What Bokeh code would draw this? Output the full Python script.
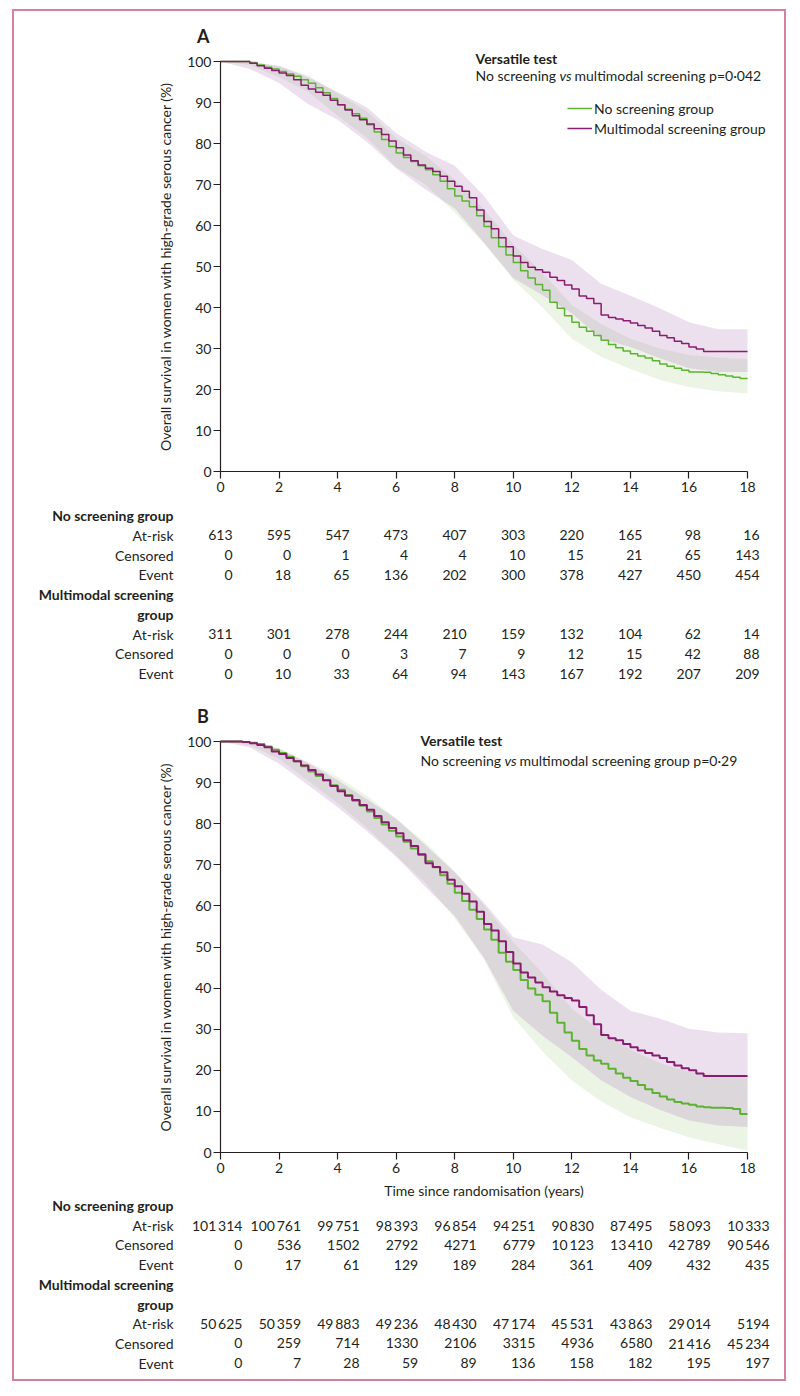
from bokeh.plotting import figure
from bokeh.models import (Range1d, FixedTicker, Label, ColumnDataSource, Legend, LegendItem)
from bokeh.layouts import column
from bokeh.embed import file_html
from bokeh.resources import INLINE
from bokeh.core.properties import value

FONT = "Lato"
INK = "#231f20"
GREEN = "#5db233"
PURPLE = "#8a1c70"
BORDER = "#d77f9d"
GREEN_BAND = "#80b658"
PURPLE_BAND = "#a064aa"

# ---------------- data ----------------
x_ticks = [0, 2, 4, 6, 8, 10, 12, 14, 16, 18]
y_ticks = [0, 10, 20, 30, 40, 50, 60, 70, 80, 90, 100]

# survival (%) read every quarter year, 0..18
A_no_screen = [100, 100, 100, 100, 99.8, 99.2, 98.6, 98.2, 97.6, 97.0, 96.4, 95.6,
               94.7, 93.6, 92.4, 91.0, 89.5, 88.4, 87.3, 86.2, 84.6, 82.8, 81.0, 79.3,
               77.7, 76.6, 75.6, 74.6, 73.6, 72.4, 70.8, 69.0, 67.2, 66.0, 64.6, 62.4,
               59.8, 57.0, 54.8, 52.8, 51.0, 49.0, 47.2, 45.6, 44.2, 41.3, 39.8, 38.0,
               36.4, 35.2, 34.2, 33.2, 32.0, 31.0, 30.2, 29.4, 28.7, 28.2, 27.7, 27.0,
               26.2, 25.7, 25.2, 24.7, 24.3, 24.3, 24.2, 23.9, 23.6, 23.3, 23.0, 22.7, 22.7]
A_multimodal = [100, 100, 100, 100, 99.6, 99.0, 98.4, 97.8, 97.2, 96.6, 95.6, 94.2,
                93.3, 92.5, 91.8, 90.6, 89.5, 88.2, 86.8, 85.8, 84.8, 83.6, 82.2, 80.6,
                79.0, 77.2, 75.8, 74.8, 74.0, 73.2, 72.0, 70.8, 69.6, 68.4, 66.8, 63.8,
                61.0, 59.2, 57.0, 54.8, 52.6, 51.0, 49.8, 49.2, 48.6, 47.4, 46.6, 45.5,
                44.5, 42.8, 42.2, 41.0, 38.2, 37.6, 37.2, 36.8, 36.2, 35.6, 35.0, 34.2,
                33.2, 32.6, 31.8, 31.2, 30.4, 29.9, 29.3, 29.3, 29.3, 29.3, 29.3, 29.3, 29.3]
B_no_screen = [100, 100, 100, 99.9, 99.7, 99.4, 98.8, 98.0, 97.2, 96.3, 95.2, 94.0,
               92.7, 91.6, 90.6, 89.4, 88.3, 87.0, 85.6, 84.4, 83.0, 81.4, 79.8, 78.3,
               76.9, 75.6, 74.0, 72.4, 70.9, 69.4, 67.5, 65.4, 63.2, 61.2, 59.1, 56.8,
               54.3, 51.8, 48.6, 46.4, 44.4, 42.0, 39.9, 38.4, 36.8, 34.0, 31.6, 29.2,
               27.2, 25.2, 23.6, 22.4, 21.6, 20.4, 19.2, 18.2, 17.4, 16.4, 15.4, 14.5,
               13.6, 12.9, 12.3, 11.9, 11.6, 11.2, 11.0, 10.9, 10.9, 10.8, 10.6, 9.4, 9.4]
B_multimodal = [100, 100, 100, 99.9, 99.6, 99.2, 98.6, 97.6, 97.0, 96.0, 95.2, 94.2,
                93.1, 92.0, 90.6, 89.2, 87.9, 86.8, 85.8, 84.6, 83.4, 81.9, 80.4, 79.0,
                77.7, 76.0, 74.6, 72.6, 70.4, 69.5, 68.2, 66.4, 64.8, 63.0, 61.1, 58.6,
                55.6, 54.0, 51.4, 48.8, 46.0, 43.8, 42.6, 41.4, 40.2, 39.2, 38.3, 37.6,
                37.0, 35.4, 33.4, 31.2, 28.6, 27.8, 27.3, 26.4, 25.6, 24.8, 24.2, 23.6,
                23.0, 22.0, 21.2, 20.5, 20.0, 19.2, 18.6, 18.6, 18.6, 18.6, 18.6, 18.6, 18.6]

# 95% CI bands read at whole years 0..18
band_years = [0, 1, 2, 3, 4, 5, 6, 7, 8, 9, 10, 11, 12, 13, 14, 15, 16, 17, 18]
A_ns_upper = [100, 100, 98.8, 96.6, 92.2, 87.8, 81.4, 77.0, 71.2, 64.0, 55.4, 48.4, 40.6, 36.0, 32.4, 30.0, 28.4, 27.8, 27.4]
A_ns_lower = [100, 99.2, 96.2, 92.6, 86.8, 81.4, 74.2, 70.0, 63.2, 55.6, 46.8, 40.0, 32.4, 28.0, 25.0, 22.4, 20.6, 19.6, 19.0]
A_mm_upper = [100, 100, 99.0, 96.2, 92.6, 88.8, 82.6, 78.0, 74.6, 67.2, 57.6, 54.3, 51.6, 45.8, 42.9, 39.8, 36.4, 34.7, 34.7]
A_mm_lower = [100, 98.2, 94.8, 89.6, 85.8, 80.4, 74.0, 68.8, 64.2, 55.8, 47.2, 43.0, 38.6, 32.4, 30.4, 27.6, 25.2, 24.3, 24.3]
B_ns_upper = [100, 100, 98.4, 95.0, 91.4, 86.8, 81.2, 75.4, 68.4, 60.2, 51.2, 43.6, 35.0, 29.6, 25.0, 21.8, 19.6, 18.8, 18.4]
B_ns_lower = [100, 99.2, 95.8, 90.4, 85.0, 79.0, 72.2, 65.6, 57.0, 47.0, 32.9, 24.6, 17.5, 12.4, 8.6, 6.0, 3.7, 2.0, 0.5]
B_mm_upper = [100, 100, 98.2, 94.8, 90.6, 86.0, 81.2, 74.8, 68.2, 60.8, 52.4, 50.6, 46.3, 39.6, 34.5, 32.6, 30.1, 29.2, 29.0]
B_mm_lower = [100, 98.6, 94.6, 89.4, 84.0, 78.2, 72.0, 64.6, 57.6, 47.4, 34.5, 28.4, 23.2, 17.6, 13.5, 10.4, 7.8, 6.6, 6.2]

# numbers-at-risk tables
A_ns_atrisk = [613, 595, 547, 473, 407, 303, 220, 165, 98, 16]
A_ns_censored = [0, 0, 1, 4, 4, 10, 15, 21, 65, 143]
A_ns_event = [0, 18, 65, 136, 202, 300, 378, 427, 450, 454]
A_mm_atrisk = [311, 301, 278, 244, 210, 159, 132, 104, 62, 14]
A_mm_censored = [0, 0, 0, 3, 7, 9, 12, 15, 42, 88]
A_mm_event = [0, 10, 33, 64, 94, 143, 167, 192, 207, 209]
B_ns_atrisk = [101314, 100761, 99751, 98393, 96854, 94251, 90830, 87495, 58093, 10333]
B_ns_censored = [0, 536, 1502, 2792, 4271, 6779, 10123, 13410, 42789, 90546]
B_ns_event = [0, 17, 61, 129, 189, 284, 361, 409, 432, 435]
B_mm_atrisk = [50625, 50359, 49883, 49236, 48430, 47174, 45531, 43863, 29014, 5194]
B_mm_censored = [0, 259, 714, 1330, 2106, 3315, 4936, 6580, 21416, 45234]
B_mm_event = [0, 7, 28, 59, 89, 136, 158, 182, 195, 197]

row_names = ["No screening group", "At-risk", "Censored", "Event",
             "Multimodal screening", "group", "At-risk", "Censored", "Event"]
row_bold = [True, False, False, False, True, True, False, False, False]

Y_LABEL = "Overall survival in women with high-grade serous cancer (%)"

# ---------------- geometry (px) ----------------
W, H = 770, 684          # each panel, inside the bordered box
PX_PER_YEAR = 29.28
LEFT_PAD = 206           # from the box edge to x = 0
XL = -LEFT_PAD / PX_PER_YEAR
XR = XL + W / PX_PER_YEAR
TXT = "14px"


def fmt(v):
    return f"{v:,}".replace(",", "\u2009") if v >= 10000 else str(v)


def quarter_times(vals):
    return [i * 0.25 for i in range(len(vals))]


def panel(letter, zero_from_top, px_per_pct, ns, mm, ns_up, ns_lo, mm_up, mm_lo, lw,
          notes, legend_loc, xlabel, tables, row0_from_top, row_dy, num_off):
    to_pct = lambda px_from_top: (zero_from_top - px_from_top) / px_per_pct
    p = figure(width=W, height=H, x_range=Range1d(XL, XR),
               y_range=Range1d(to_pct(H), to_pct(0)),
               output_backend="svg", toolbar_location=None, min_border=0)
    p.outline_line_color = None
    p.grid.visible = False

    # confidence bands and KM curves
    p.varea(x=band_years, y1=ns_lo, y2=ns_up, fill_color=GREEN_BAND, fill_alpha=0.15)
    p.varea(x=band_years, y1=mm_lo, y2=mm_up, fill_color=PURPLE_BAND, fill_alpha=0.2)
    g = p.step(x=quarter_times(ns), y=ns, mode="after", line_color=GREEN, line_width=lw)
    m = p.step(x=quarter_times(mm), y=mm, mode="after", line_color=PURPLE, line_width=lw)

    # axes crossing at (0, 0)
    p.xaxis.fixed_location = 0
    p.yaxis.fixed_location = 0
    for ax in (p.xaxis[0], p.yaxis[0]):
        ax.axis_line_color = INK
        ax.axis_line_width = 1.2
        ax.major_tick_line_color = INK
        ax.major_tick_line_width = 1.2
        ax.major_tick_out = 7
        ax.major_tick_in = 0
        ax.minor_tick_line_color = None
        ax.major_label_text_font = FONT
        ax.major_label_text_font_size = TXT
        ax.major_label_text_color = INK
        ax.axis_label_text_font = FONT
        ax.axis_label_text_font_style = "normal"
        ax.axis_label_text_color = INK
    p.xaxis.ticker = FixedTicker(ticks=x_ticks)
    p.yaxis.ticker = FixedTicker(ticks=y_ticks)
    p.xaxis.bounds = (0, 18)
    p.yaxis.bounds = (0, 100)
    p.xaxis.major_label_standoff = 3
    p.yaxis.major_label_standoff = 2
    p.yaxis.axis_label = Y_LABEL
    p.yaxis.axis_label_text_font_size = "14px"
    p.yaxis.axis_label_standoff = 10
    if xlabel:
        p.xaxis.axis_label = xlabel
        p.xaxis.axis_label_text_font_size = TXT
        p.xaxis.axis_label_standoff = 6

    # panel letter
    p.add_layout(Label(x=-0.8, y=106.2, text=letter, text_font=FONT, text_font_size="18px",
                       text_font_style="bold", text_color=INK, text_baseline="middle"))
    # test annotation (x offsets in px)
    for (x, y, dx, txt, style) in notes:
        p.add_layout(Label(x=x, y=y, x_offset=dx, text=txt, text_font=FONT,
                           text_font_size=TXT, text_font_style=style, text_color=INK,
                           text_baseline="middle"))

    if legend_loc is not None:
        leg = Legend(items=[LegendItem(label="No screening group", renderers=[g]),
                            LegendItem(label="Multimodal screening group", renderers=[m])],
                     location=legend_loc, glyph_width=25, glyph_height=20, label_height=20,
                     label_standoff=2, spacing=0, padding=0, margin=0,
                     border_line_color=None, background_fill_alpha=0,
                     label_text_font=FONT, label_text_font_size=TXT,
                     label_text_color=INK)
        p.add_layout(leg)

    # risk table below the axis
    row_y = [to_pct(row0_from_top + i * row_dy) for i in range(len(row_names))]
    for bold in (True, False):
        idx = [i for i in range(len(row_names)) if row_bold[i] == bold]
        src = ColumnDataSource(dict(x=[-1.605] * len(idx), y=[row_y[i] for i in idx],
                                    t=[row_names[i] for i in idx]))
        p.text(x="x", y="y", text="t", source=src, text_align=value("right"),
               text_baseline=value("middle"), text_font=value(FONT),
               text_font_size=value(TXT),
               text_font_style=value("bold" if bold else "normal"), text_color=INK)
    xs, ys, ts = [], [], []
    for row_idx, vals in zip([1, 2, 3, 6, 7, 8], tables):
        for tk, v in zip(x_ticks, vals):
            xs.append(tk + num_off)
            ys.append(row_y[row_idx])
            ts.append(fmt(v))
    src = ColumnDataSource(dict(x=xs, y=ys, t=ts))
    p.text(x="x", y="y", text="t", source=src, text_align=value("right"),
           text_baseline=value("middle"), text_font=value(FONT),
           text_font_size=value(TXT), text_color=INK)
    return p


def notes_for(x0, y1, y2, tail):
    return [(x0, y1, 0, "Versatile test", "bold"),
            (x0, y2, 0, "No screening ", "normal"),
            (x0, y2, 84, "vs", "italic"),
            (x0, y2, 99, tail, "normal")]


# panel A: box rows 0..684 (page y 11..695); y = 0 at 460 px from the top
pA = panel("A", 460, 4.099,
           A_no_screen, A_multimodal, A_ns_upper, A_ns_lower, A_mm_upper, A_mm_lower, 1.5,
           notes_for(8.71, 100.75, 96.6, "multimodal screening p=0\u00b7042"),
           (553, 557), None,
           [A_ns_atrisk, A_ns_censored, A_ns_event, A_mm_atrisk, A_mm_censored, A_mm_event],
           504, 19.75, 0.41)

# panel B: page y 695..1379; y = 0 at 457 px from its top
pB = panel("B", 457, 4.109,
           B_no_screen, B_multimodal, B_ns_upper, B_ns_lower, B_mm_upper, B_mm_lower, 2.0,
           notes_for(6.83, 100.3, 95.4, "multimodal screening group p=0\u00b729"),
           None, "Time since randomisation (years)",
           [B_ns_atrisk, B_ns_censored, B_ns_event, B_mm_atrisk, B_mm_censored, B_mm_event],
           510, 19.7, 0.75)

layout = column(pA, pB, spacing=0, margin=(9, 0, 0, 12),
                styles={"border": f"2px solid {BORDER}"})

open("out.html", "w").write(file_html(layout, INLINE))
